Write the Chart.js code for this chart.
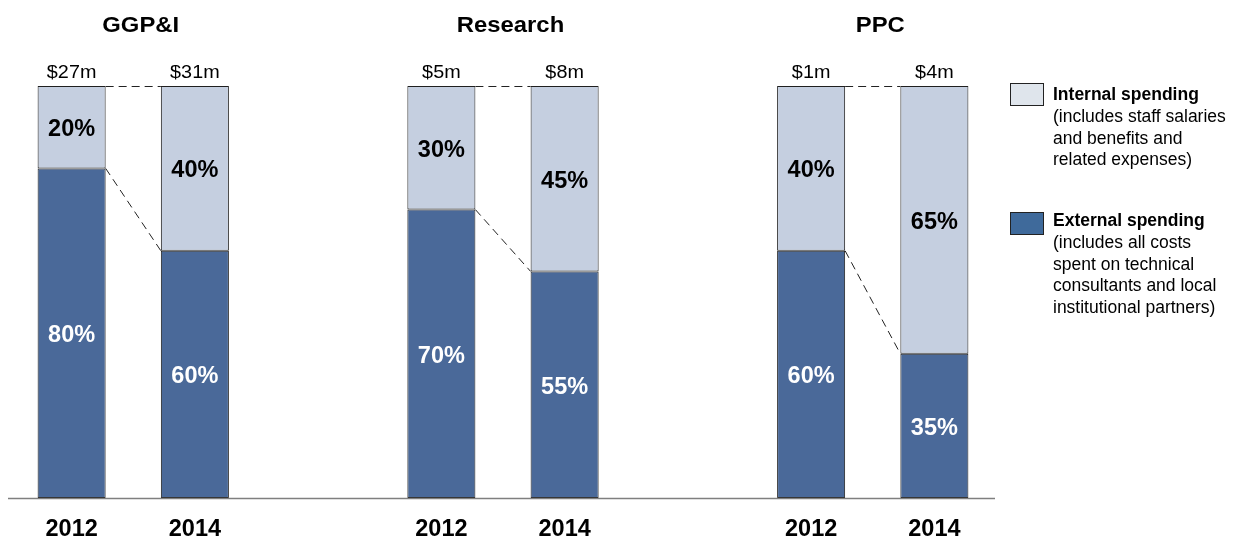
<!DOCTYPE html>
<html><head><meta charset="utf-8">
<script src="https://cdn.jsdelivr.net/npm/chart.js@4.4.1/dist/chart.umd.min.js"></script>
<style>
html,body{margin:0;padding:0;background:#fff;}
#wrap{position:relative;width:1234px;height:538px;}
canvas{display:block;}
.leg{position:absolute;left:1010px;font-family:"Liberation Sans",Arial,sans-serif;font-size:17.5px;line-height:21.8px;color:#000;}
.sw{position:absolute;left:0;width:34px;height:23px;border:1px solid #222;box-sizing:border-box;}
.txt{position:absolute;left:43px;width:200px;white-space:nowrap;}
.txt b{font-weight:bold;}
</style></head>
<body><div id="wrap"><canvas id="c" width="1234" height="538"></canvas>
<div class="leg" style="top:83px"><div class="sw" style="top:0px;background:#dfe5ec"></div><div class="txt" style="top:1px"><b>Internal spending</b><br>(includes staff salaries<br>and benefits and<br>related expenses)</div></div>
<div class="leg" style="top:212px"><div class="sw" style="top:0px;background:#3f6a9b"></div><div class="txt" style="top:-2px"><b>External spending</b><br>(includes all costs<br>spent on technical<br>consultants and local<br>institutional partners)</div></div>
</div>
<script>
const categories = ['2012','2014','','2012','2014','','2012','2014'];
const groups = ['GGP&I','Research','PPC'];
const totals = ['$27m','$31m','','$5m','$8m','','$1m','$4m'];
const externalPct = [80,60,null,70,55,null,60,35];
const internalPct = [20,40,null,30,45,null,40,65];

const FONT = '"Liberation Sans", Arial, sans-serif';

function txt(ctx, s, x, baseY, font, sx, sy){
  ctx.save();
  ctx.translate(x, baseY);
  ctx.scale(sx, sy);
  ctx.font = font;
  ctx.textAlign = 'center';
  ctx.textBaseline = 'alphabetic';
  ctx.fillText(s, 0, 0);
  ctx.restore();
}

const annot = {
  id:'annot',
  afterDatasetsDraw(chart){
    const ctx = chart.ctx;
    const y = chart.scales.y;
    const m0 = chart.getDatasetMeta(0), m1 = chart.getDatasetMeta(1);
    ctx.save();
    categories.forEach((c,i)=>{
      if(externalPct[i]==null) return;
      const e = m0.data[i], n = m1.data[i];
      ctx.fillStyle = '#fff';
      txt(ctx, externalPct[i]+'%', e.x, (e.y+e.base)/2 + 9, 'bold 23.5px '+FONT, 1, 1);
      ctx.fillStyle = '#000';
      txt(ctx, internalPct[i]+'%', n.x, (n.y+n.base)/2 + 9, 'bold 23.5px '+FONT, 1, 1);
      txt(ctx, totals[i], e.x, 78, '18px '+FONT, 1.1, 1);
      txt(ctx, c, e.x, 536, 'bold 23.5px '+FONT, 1, 1);
    });
    groups.forEach((g,k)=>{
      const a = m0.data[k*3], b = m0.data[k*3+1];
      txt(ctx, g, (a.x+b.x)/2+7.5, 32, 'bold 22.5px '+FONT, 1.06, 1);
    });
    ctx.strokeStyle = '#222'; ctx.lineWidth = 1; ctx.setLineDash([8,5]);
    for(let k=0;k<3;k++){
      const i=k*3, j=k*3+1;
      const a0=m0.data[i], b0=m0.data[j], a1=m1.data[i], b1=m1.data[j];
      const ar = a0.x + a0.width/2, bl = b0.x - b0.width/2;
      ctx.beginPath(); ctx.moveTo(ar, a1.y+0.5); ctx.lineTo(bl, b1.y+0.5); ctx.stroke();
      ctx.beginPath(); ctx.moveTo(ar, a0.y); ctx.lineTo(bl, b0.y); ctx.stroke();
    }
    ctx.setLineDash([]);
    ctx.strokeStyle='#7f7f7f'; ctx.lineWidth=1.5;
    const y0 = y.getPixelForValue(0)+0.5;
    ctx.beginPath(); ctx.moveTo(8, y0); ctx.lineTo(995, y0); ctx.stroke();
    ctx.restore();
  }
};

new Chart(document.getElementById('c'), {
  type:'bar',
  data:{
    labels: categories,
    datasets:[
      {label:'External spending', data: externalPct, backgroundColor:'#4a6999', borderColor:'#1f1f1f', borderWidth:1, borderSkipped:false},
      {label:'Internal spending', data: internalPct, backgroundColor:'#c5cfe0', borderColor:'#1f1f1f', borderWidth:1, borderSkipped:false}
    ]
  },
  options:{
    responsive:false, animation:false,
    layout:{padding:{left:10, right:238, top:86, bottom:40}},
    plugins:{legend:{display:false}, tooltip:{enabled:false}},
    datasets:{bar:{barPercentage:0.552, categoryPercentage:1}},
    scales:{
      x:{stacked:true, display:false, offset:true},
      y:{stacked:true, display:false, min:0, max:100}
    }
  },
  plugins:[annot]
});
</script></body></html>
